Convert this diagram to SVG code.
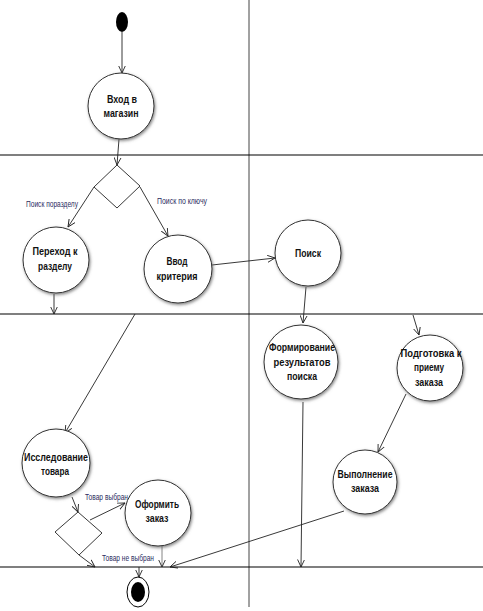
<svg xmlns="http://www.w3.org/2000/svg" width="483" height="611" viewBox="0 0 483 611">
<style>
.lane{stroke:#000;stroke-width:1.2;fill:none}
.vl{stroke:#444;stroke-width:1;fill:none}
.c{fill:#fff;stroke:#333;stroke-width:1;filter:url(#sh)}
.e{stroke:#222;stroke-width:0.9;fill:none;marker-end:url(#ar)}
.t{font-family:"Liberation Sans",sans-serif;font-weight:bold;font-size:11px;fill:#111;text-anchor:middle}
.l{font-family:"Liberation Sans",sans-serif;font-size:9px;fill:#2b2b5e}
.d{fill:#fff;stroke:#222;stroke-width:0.9}
</style>
<defs>
<filter id="sh" x="-30%" y="-30%" width="160%" height="160%">
<feDropShadow dx="1" dy="1.5" stdDeviation="1.6" flood-color="#666" flood-opacity="0.8"/>
</filter>
<marker id="ar" viewBox="0 0 8 8" refX="7.5" refY="4" markerWidth="8" markerHeight="8" markerUnits="userSpaceOnUse" orient="auto">
<path d="M0,0.5 L7.5,4 L0,7.5" fill="none" stroke="#222" stroke-width="0.9"/>
</marker>
</defs>
<g id="lanes">
<line class="vl" x1="249" y1="0" x2="249" y2="607"/>
<line class="lane" x1="0" y1="155" x2="483" y2="155"/>
<line class="lane" x1="0" y1="314" x2="483" y2="314"/>
<line class="lane" x1="0" y1="567" x2="483" y2="567"/>
</g>
<g id="connectors">
<line class="e" x1="122" y1="32" x2="122" y2="73"/>
<line class="e" x1="119" y1="139" x2="117" y2="165"/>
<line class="e" x1="94" y1="187" x2="68" y2="227"/>
<line class="e" x1="140" y1="187" x2="168" y2="236"/>
<line class="e" x1="54" y1="294" x2="54" y2="314"/>
<line class="e" x1="212" y1="265" x2="275" y2="258"/>
<line class="e" x1="306" y1="287" x2="303" y2="323"/>
<line class="e" x1="413" y1="315" x2="419" y2="335"/>
<line class="e" x1="406" y1="394" x2="378" y2="452"/>
<line class="e" x1="303" y1="402" x2="301" y2="567"/>
<line class="e" x1="344" y1="511" x2="170" y2="567"/>
<line class="e" x1="135" y1="314" x2="65" y2="433"/>
<line class="e" x1="72" y1="497" x2="78" y2="512"/>
<line class="e" x1="90" y1="520" x2="125" y2="503"/>
<line class="e" x1="79" y1="555" x2="95" y2="567"/>
<line class="e" x1="162" y1="545" x2="162" y2="567" style="stroke:#777"/>
<line class="e" x1="139" y1="567" x2="139" y2="577"/>
<text class="l" x="26" y="207" textLength="52" lengthAdjust="spacingAndGlyphs">Поиск поразделу</text>
<text class="l" x="157" y="204" textLength="50" lengthAdjust="spacingAndGlyphs">Поиск по ключу</text>
<text class="l" x="85" y="500" textLength="43" lengthAdjust="spacingAndGlyphs">Товар выбран</text>
<text class="l" x="102" y="561" textLength="52" lengthAdjust="spacingAndGlyphs">Товар не выбран</text>
</g>
<g id="start"><ellipse cx="122" cy="22" rx="6" ry="10" fill="#000"/></g>
<g id="n-vhod"><circle class="c" cx="121" cy="106" r="33"/><text class="t" x="122" y="103" textLength="30" lengthAdjust="spacingAndGlyphs">Вход в</text><text class="t" x="121" y="117" textLength="35" lengthAdjust="spacingAndGlyphs">магазин</text></g>
<g id="dec1"><polygon class="d" points="117,165 140,186 117,208 94,187"/></g>
<g id="n-perehod"><circle class="c" cx="56" cy="260" r="33"/><text class="t" x="55" y="255" textLength="45" lengthAdjust="spacingAndGlyphs">Переход к</text><text class="t" x="55" y="270" textLength="34" lengthAdjust="spacingAndGlyphs">разделу</text></g>
<g id="n-vvod"><circle class="c" cx="178" cy="269" r="34"/><text class="t" x="177" y="265" textLength="21" lengthAdjust="spacingAndGlyphs">Ввод</text><text class="t" x="177" y="280" textLength="41" lengthAdjust="spacingAndGlyphs">критерия</text></g>
<g id="n-poisk"><circle class="c" cx="308" cy="253" r="33"/><text class="t" x="308" y="257" textLength="26" lengthAdjust="spacingAndGlyphs">Поиск</text></g>
<g id="n-form"><circle class="c" cx="301" cy="362" r="37"/><text class="t" x="302" y="351" textLength="66" lengthAdjust="spacingAndGlyphs">Формирование</text><text class="t" x="302" y="366" textLength="57" lengthAdjust="spacingAndGlyphs">результатов</text><text class="t" x="302" y="380" textLength="30" lengthAdjust="spacingAndGlyphs">поиска</text></g>
<g id="n-podg"><circle class="c" cx="430" cy="368" r="33"/><text class="t" x="431" y="357" textLength="61" lengthAdjust="spacingAndGlyphs">Подготовка к</text><text class="t" x="429" y="371" textLength="30" lengthAdjust="spacingAndGlyphs">приему</text><text class="t" x="429" y="386" textLength="28" lengthAdjust="spacingAndGlyphs">заказа</text></g>
<g id="n-vypoln"><circle class="c" cx="365" cy="482" r="32"/><text class="t" x="365" y="478" textLength="55" lengthAdjust="spacingAndGlyphs">Выполнение</text><text class="t" x="365" y="492" textLength="28" lengthAdjust="spacingAndGlyphs">заказа</text></g>
<g id="n-issl"><circle class="c" cx="56" cy="463" r="34"/><text class="t" x="56" y="461" textLength="64" lengthAdjust="spacingAndGlyphs">Исследование</text><text class="t" x="55" y="475" textLength="28" lengthAdjust="spacingAndGlyphs">товара</text></g>
<g id="dec2"><polygon class="d" points="78,512 102,533 79,555 55,532"/></g>
<g id="n-oform"><circle class="c" cx="158" cy="513" r="33"/><text class="t" x="157" y="508" textLength="44" lengthAdjust="spacingAndGlyphs">Оформить</text><text class="t" x="157" y="522" textLength="23" lengthAdjust="spacingAndGlyphs">заказ</text></g>
<g id="end"><ellipse cx="138" cy="592" rx="11" ry="15" fill="#fff" stroke="#000" stroke-width="1"/><ellipse cx="138" cy="592" rx="7" ry="10" fill="#000"/></g>
</svg>
